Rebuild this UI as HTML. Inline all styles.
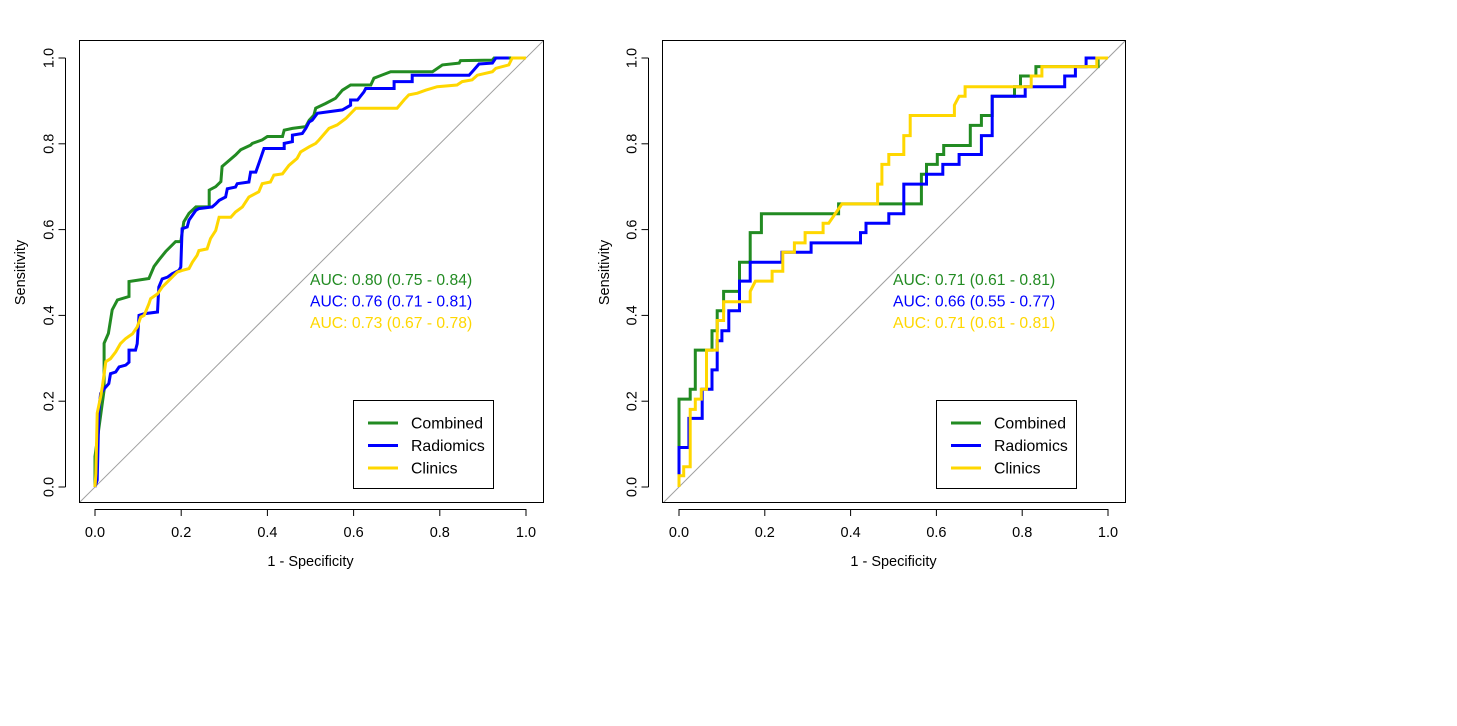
<!DOCTYPE html>
<html><head><meta charset="utf-8"><style>
html,body{margin:0;padding:0;background:#fff;}
svg{display:block;font-family:"Liberation Sans",Arial,sans-serif;}
</style></head><body>
<svg id="chart" width="1457" height="726" viewBox="0 0 1457 726"></svg>
<script>
// ---- data ----
const xTicks = [0, 0.2, 0.4, 0.6, 0.8, 1.0];
const yTicks = [0, 0.2, 0.4, 0.6, 0.8, 1.0];
const tickLabels = ["0.0", "0.2", "0.4", "0.6", "0.8", "1.0"];
const seriesNames = ["Combined", "Radiomics", "Clinics"];
const seriesColors = ["#228B22", "#0000FF", "#FFD700"];
const aucLeft = ["AUC: 0.80 (0.75 - 0.84)", "AUC: 0.76 (0.71 - 0.81)", "AUC: 0.73 (0.67 - 0.78)"];
const aucRight = ["AUC: 0.71 (0.61 - 0.81)", "AUC: 0.66 (0.55 - 0.77)", "AUC: 0.71 (0.61 - 0.81)"];

const L_comb_fpr = [0,0,.021,.021,.031,.040,.052,.079,.079,.125,.137,.148,.164,.187,.199,.206,.218,.234,.265,.265,.280,.292,.295,.303,.326,.338,.361,.365,.388,.400,.435,.439,.458,.489,.497,.508,.512,.535,.558,.574,.593,.640,.647,.686,.783,.806,.845,.848,.922,.926,.999];
const L_comb_tpr = [0,.071,.226,.335,.358,.413,.436,.444,.479,.486,.514,.529,.549,.572,.572,.618,.638,.653,.653,.692,.700,.712,.747,.754,.774,.786,.797,.801,.809,.817,.817,.832,.836,.840,.855,.867,.883,.894,.906,.925,.937,.937,.953,.968,.968,.984,.988,.994,.995,1,1];
const L_rad_fpr = [0,.005,.009,.013,.025,.032,.036,.048,.056,.071,.079,.079,.094,.098,.102,.114,.145,.148,.156,.168,.179,.195,.199,.202,.214,.218,.234,.241,.272,.280,.288,.303,.307,.326,.330,.357,.361,.373,.384,.392,.439,.439,.458,.458,.481,.489,.497,.504,.516,.574,.593,.593,.609,.624,.628,.694,.694,.736,.736,.868,.879,.891,.922,.930,.960];
const L_rad_tpr = [0,.016,.179,.218,.233,.241,.264,.268,.280,.284,.291,.319,.319,.334,.400,.404,.408,.466,.485,.489,.497,.505,.513,.602,.606,.622,.645,.649,.653,.660,.668,.676,.695,.699,.707,.711,.734,.734,.765,.789,.789,.801,.805,.820,.824,.836,.851,.855,.871,.879,.890,.902,.902,.921,.929,.929,.945,.945,.960,.960,.972,.986,.988,1,1];
const L_cli_fpr = [0,.002,.005,.013,.017,.025,.036,.048,.059,.071,.087,.098,.106,.114,.125,.129,.145,.156,.168,.179,.191,.202,.218,.226,.237,.241,.260,.268,.280,.288,.315,.326,.342,.357,.380,.388,.407,.415,.435,.450,.469,.477,.497,.512,.520,.543,.562,.582,.605,.701,.717,.728,.748,.767,.794,.840,.852,.875,.887,.922,.930,.960,.968,1];
const L_cli_tpr = [0,.032,.172,.210,.233,.292,.299,.315,.334,.346,.357,.373,.396,.400,.427,.439,.450,.466,.478,.489,.501,.505,.509,.524,.540,.551,.555,.579,.598,.629,.629,.641,.653,.676,.688,.707,.711,.727,.730,.750,.766,.781,.793,.801,.809,.836,.844,.859,.883,.883,.902,.914,.918,.925,.933,.937,.945,.949,.960,.968,.976,.984,1,1];

const R_comb_fpr = [0,0,.026,.026,.038,.038,.077,.077,.089,.089,.104,.104,.141,.141,.166,.166,.192,.192,.372,.372,.565,.565,.577,.577,.602,.602,.617,.617,.679,.679,.705,.705,.730,.730,.782,.782,.796,.796,.832,.832,.977,.977,1];
const R_comb_tpr = [0,.205,.205,.228,.228,.319,.319,.364,.364,.411,.411,.456,.456,.524,.524,.593,.593,.637,.637,.660,.660,.729,.729,.752,.752,.775,.775,.796,.796,.843,.843,.866,.866,.911,.911,.933,.933,.958,.958,.980,.980,1,1];
const R_rad_fpr = [0,0,.023,.023,.054,.054,.077,.077,.089,.089,.100,.100,.116,.116,.141,.141,.166,.166,.240,.240,.308,.308,.423,.423,.436,.436,.489,.489,.524,.524,.577,.577,.615,.615,.653,.653,.705,.705,.730,.730,.807,.807,.899,.899,.924,.924,.949,.949,1];
const R_rad_tpr = [0,.092,.092,.160,.160,.228,.228,.273,.273,.341,.341,.364,.364,.411,.411,.480,.480,.524,.524,.547,.547,.569,.569,.593,.593,.615,.615,.637,.637,.706,.706,.729,.729,.752,.752,.775,.775,.819,.819,.911,.911,.933,.933,.958,.958,.980,.980,1,1];
const R_cli_fpr = [0,0,.011,.011,.026,.026,.038,.038,.052,.052,.064,.064,.089,.089,.104,.104,.166,.166,.178,.217,.217,.242,.242,.269,.269,.294,.294,.336,.336,.349,.380,.463,.463,.473,.473,.489,.489,.524,.524,.539,.539,.642,.642,.653,.667,.667,.821,.821,.846,.846,.974,.974,1];
const R_cli_tpr = [0,.026,.026,.047,.047,.181,.181,.205,.205,.228,.228,.319,.319,.388,.388,.432,.432,.456,.480,.480,.503,.503,.547,.547,.569,.569,.593,.593,.615,.615,.660,.660,.706,.706,.752,.752,.775,.775,.819,.819,.866,.866,.890,.911,.911,.933,.933,.958,.958,.980,.980,1,1];

const panels = [
  {name:"left", box:[79,40,543,502], x0:95, x1:526, y0:487, y1:58, ylab:20, auc:aucLeft, aucX:310, leg:353,
   series:[[L_comb_fpr,L_comb_tpr],[L_rad_fpr,L_rad_tpr],[L_cli_fpr,L_cli_tpr]]},
  {name:"right", box:[662,40,1125,502], x0:679, x1:1108, y0:487, y1:58, ylab:604, auc:aucRight, aucX:893, leg:936,
   series:[[R_comb_fpr,R_comb_tpr],[R_rad_fpr,R_rad_tpr],[R_cli_fpr,R_cli_tpr]]}
];

const NS = "http://www.w3.org/2000/svg";
const svg = document.getElementById("chart");
function mk(tag, attrs, parent, text){
  const e = document.createElementNS(NS, tag);
  for (const k in attrs) e.setAttribute(k, attrs[k]);
  if (text !== undefined) e.textContent = text;
  (parent || svg).appendChild(e);
  return e;
}

panels.forEach((p, pi) => {
  const g = mk("g", {});
  
  
  const sx = v => p.x0 + v * (p.x1 - p.x0);
  const sy = v => p.y0 + v * (p.y1 - p.y0);
  const [bx0, by0, bx1, by1] = p.box;
  const clipId = "clip" + pi;
  const cp = mk("clipPath", {id: clipId}, g);
  mk("rect", {x: bx0, y: by0, width: bx1 - bx0, height: by1 - by0}, cp);

  const diag = mk("line", {x1: sx(-0.1), y1: sy(-0.1), x2: sx(1.1), y2: sy(1.1), stroke: "#a0a0a0", "stroke-width": 1, "clip-path": "url(#" + clipId + ")"}, g);
  
  

  p.series.forEach((s, si) => {
    const pts = s[0].map((f, i) => sx(f).toFixed(1) + "," + sy(s[1][i]).toFixed(1)).join(" ");
    const pl = mk("polyline", {points: pts, fill: "none", stroke: seriesColors[si], "stroke-width": 3, "stroke-linejoin": "miter"}, g);
    
    
  });

  const box = mk("rect", {x: bx0 + 0.5, y: by0 + 0.5, width: bx1 - bx0, height: by1 - by0, fill: "none", stroke: "#000", "stroke-width": 1}, g);
  
  

  const xa = mk("g", {}, g);
  
  
  mk("line", {x1: sx(0), y1: 509.5, x2: sx(1), y2: 509.5, stroke: "#000"}, xa);
  xTicks.forEach((t, i) => {
    mk("line", {x1: sx(t), y1: 509, x2: sx(t), y2: 516, stroke: "#000"}, xa);
    const tl = mk("text", {x: sx(t), y: 537, "text-anchor": "middle", "font-size": 14.5}, xa, tickLabels[i]);
    
    
  });
  const xt = mk("text", {x: (sx(0) + sx(1)) / 2, y: 566, "text-anchor": "middle", "font-size": 14.5}, g, "1 - Specificity");
  
  

  const ya = mk("g", {}, g);
  
  
  const axX = bx0 - 13.5;
  mk("line", {x1: axX, y1: sy(0), x2: axX, y2: sy(1), stroke: "#000"}, ya);
  yTicks.forEach((t, i) => {
    mk("line", {x1: axX - 7, y1: sy(t), x2: axX, y2: sy(t), stroke: "#000"}, ya);
    const tl = mk("text", {x: axX - 12, y: sy(t), "text-anchor": "middle", "font-size": 14.5, transform: "rotate(-90 " + (axX - 12) + " " + sy(t) + ")"}, ya, tickLabels[i]);
    
    
  });
  const cy = (sy(0) + sy(1)) / 2;
  const yt = mk("text", {x: p.ylab + 5, y: cy, "text-anchor": "middle", "font-size": 14.5, transform: "rotate(-90 " + (p.ylab + 5) + " " + cy + ")"}, g, "Sensitivity");
  
  

  p.auc.forEach((a, i) => {
    const at = mk("text", {x: p.aucX, y: 285 + i * 21.5, "font-size": 15.7, fill: seriesColors[i]}, g, a);
    
    
  });

  const lg = mk("g", {}, g);
  
  
  mk("rect", {x: p.leg + 0.5, y: 400.5, width: 140, height: 88, fill: "#fff", stroke: "#000"}, lg);
  seriesNames.forEach((n, i) => {
    const e = mk("g", {}, lg);
    
    
    const y = 423 + i * 22.5;
    mk("line", {x1: p.leg + 15, y1: y, x2: p.leg + 45, y2: y, stroke: seriesColors[i], "stroke-width": 3}, e);
    mk("text", {x: p.leg + 58, y: y + 5.5, "font-size": 15.8}, e, n);
  });
});
</script>
</body></html>
